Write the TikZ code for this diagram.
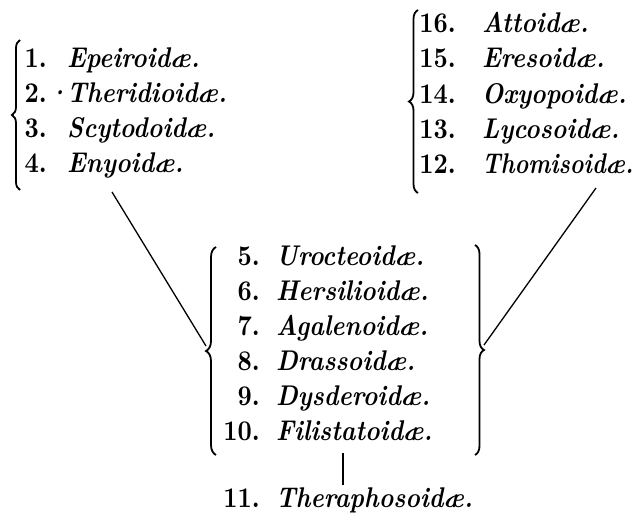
\documentclass[tikz,border=0pt]{standalone}
\usepackage{fontspec}
\usetikzlibrary{decorations.pathreplacing}
\newfontfamily\diagfont{lmroman10}[Extension=.otf,
  UprightFont=*-bold, ItalicFont=*-bolditalic, FakeStretch=0.87]
\newcommand\diagsize{\fontsize{28.5}{34}\selectfont}
\tikzset{
  num/.style={anchor=base east,inner sep=0pt,font=\diagfont\diagsize},
  nm/.style={anchor=base west,inner sep=0pt,font=\diagfont\diagsize\itshape},
  bracepath/.style={decorate,decoration={brace,amplitude=#1},line width=1.8pt},
  link/.style={line width=1.3pt}
}
\begin{document}
\begin{tikzpicture}[x=1pt,y=-1pt]
\useasboundingbox (0,0) rectangle (633,517);
% left upper group
\node[num] (n1) at (47,67) {1.};
\node[nm]  (f1) at (67,67) {Epeiroidæ.};
\node[num] (n2) at (47,102) {2.};
\node[nm]  (f2) at (67,102) {\llap{·\hskip-2pt}Theridioidæ.};
\node[num] (n3) at (47,137) {3.};
\node[nm]  (f3) at (67,137) {Scytodoidæ.};
\node[num] (n4) at (47,172) {4.};
\node[nm]  (f4) at (67,172) {Enyoidæ.};
% right upper group
\node[num] (n16) at (456,32) {16.};
\node[nm]  (f16) at (482,32) {Attoidæ.};
\node[num] (n15) at (456,67.5) {15.};
\node[nm]  (f15) at (482,67.5) {Eresoidæ.};
\node[num] (n14) at (456,103) {14.};
\node[nm]  (f14) at (482,103) {Oxyopoidæ.};
\node[num] (n13) at (456,138) {13.};
\node[nm]  (f13) at (482,138) {Lycosoidæ.};
\node[num] (n12) at (456,173) {12.};
\node[nm]  (f12) at (482,173) {\scalebox{0.94}[1]{Thomisoidæ.}};
% middle group
\node[num] (n5) at (260,265) {5.};
\node[nm]  (f5) at (276,265) {Urocteoidæ.};
\node[num] (n6) at (260,300) {6.};
\node[nm]  (f6) at (276,300) {Hersilioidæ.};
\node[num] (n7) at (260,335) {7.};
\node[nm]  (f7) at (276,335) {Agalenoidæ.};
\node[num] (n8) at (260,370) {8.};
\node[nm]  (f8) at (276,370) {Drassoidæ.};
\node[num] (n9) at (260,405) {9.};
\node[nm]  (f9) at (276,405) {Dysderoidæ.};
\node[num] (n10) at (260,440) {10.};
\node[nm]  (f10) at (276,440) {Filistatoidæ.};
\node[num] (n11) at (260,507) {11.};
\node[nm]  (f11) at (276,507) {Theraphosoidæ.};
% braces
\draw[bracepath=8pt] (20,190) -- (20,40);
\draw[bracepath=9pt] (418,193) -- (418,10);
\draw[bracepath=10pt] (216,455) -- (216,247);
\draw[bracepath=9pt] (475,245) -- (475,455);
% brace tips and line ends
\coordinate (midL) at (206,346);
\coordinate (midR) at (484,345);
\coordinate (leftEnd) at (112,192);
\coordinate (rightEnd) at (596,188);
\coordinate (midTop) at (343,453);
\coordinate (midBot) at (343,485);
% connectors
\draw[link] (leftEnd) -- (midL);
\draw[link] (rightEnd) -- (midR);
\draw[link] (midTop) -- (midBot);
\end{tikzpicture}
\end{document}
